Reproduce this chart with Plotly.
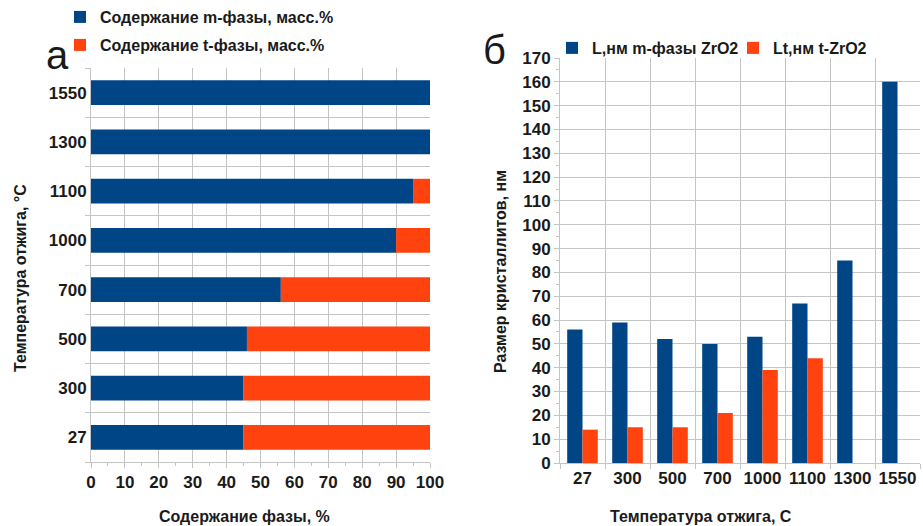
import plotly.graph_objects as go

# ---- data ----
temps_a = ["27", "300", "500", "700", "1000", "1100", "1300", "1550"]
m_phase = [45, 45, 46, 56, 90, 95, 100, 100]
t_phase = [55, 55, 54, 44, 10, 5, 0, 0]

temps_b = ["27", "300", "500", "700", "1000", "1100", "1300", "1550"]
L_m = [56, 59, 52, 50, 53, 67, 85, 160]
L_t = [14, 15, 15, 21, 39, 44, None, None]

BLUE = "#004586"
ORANGE = "#ff420e"
GRID = "#c4c4c4"
FONT = "Liberation Sans"
TXT = "#1a1a1a"

W, H = 923, 526
def px(x): return x / W
def py(y): return 1 - y / H

fig = go.Figure()

# left panel: stacked horizontally (t-phase starts where m-phase ends)
fig.add_trace(go.Bar(y=temps_a, x=m_phase, orientation="h", name="Содержание m-фазы, масс.%",
                     marker=dict(color=BLUE, line=dict(width=0)), xaxis="x", yaxis="y", legend="legend"))
fig.add_trace(go.Bar(y=temps_a, x=t_phase, base=m_phase, orientation="h", name="Содержание t-фазы, масс.%",
                     marker=dict(color=ORANGE, line=dict(width=0)), xaxis="x", yaxis="y", legend="legend3"))

# right panel: side by side
fig.add_trace(go.Bar(x=temps_b, y=L_m, name="L,нм m-фазы ZrO2",
                     marker=dict(color=BLUE, line=dict(width=0)), xaxis="x2", yaxis="y2", legend="legend2",
                     width=0.34, offset=-0.34))
fig.add_trace(go.Bar(x=temps_b, y=L_t, name="Lt,нм t-ZrO2",
                     marker=dict(color=ORANGE, line=dict(width=0)), xaxis="x2", yaxis="y2", legend="legend4",
                     width=0.34, offset=0.0))

tickfont = dict(family=FONT, size=17, color=TXT, weight="bold")
titlefont = dict(family=FONT, size=16, color=TXT, weight="bold")
legfont = dict(family=FONT, size=16, color=TXT, weight="bold")

def leg(xpix, ypix):
    return dict(x=px(xpix), y=py(ypix), xanchor="left", yanchor="middle", orientation="h",
                font=legfont, bgcolor="rgba(0,0,0,0)", itemwidth=30)

fig.update_layout(
    width=W, height=H, margin=dict(l=0, r=0, t=0, b=0, autoexpand=False),
    paper_bgcolor="white", plot_bgcolor="white",
    barmode="overlay",
    bargap=0.5,
    showlegend=True,
    xaxis=dict(domain=[px(91), px(430)], anchor="y", range=[0, 100], dtick=10,
               showgrid=True, gridcolor=GRID, zeroline=False, automargin=False,
               showline=True, linecolor=GRID, ticks="outside", ticklen=5, tickcolor=GRID,
               minor=dict(dtick=5, ticks="outside", ticklen=3, tickcolor=GRID, showgrid=False),
               tickfont=tickfont, tickangle=0),
    yaxis=dict(domain=[py(462), py(68)], anchor="x", type="category",
               categoryorder="array", categoryarray=temps_a, automargin=False,
               tickson="boundaries", showgrid=True, gridcolor=GRID,
               showline=True, linecolor=GRID, ticks="outside", ticklen=5, tickcolor=GRID,
               tickfont=tickfont),
    xaxis2=dict(domain=[px(560), px(920)], anchor="y2", type="category",
                categoryorder="array", categoryarray=temps_b, automargin=False,
                tickson="boundaries", showgrid=True, gridcolor=GRID,
                showline=True, linecolor=GRID, ticks="outside", ticklen=5, tickcolor=GRID,
                tickfont=tickfont, tickangle=0),
    yaxis2=dict(domain=[py(463), py(58)], anchor="x2", range=[0, 170], dtick=10,
                showgrid=True, gridcolor=GRID, zeroline=False, automargin=False,
                showline=True, linecolor=GRID, ticks="outside", ticklen=5, tickcolor=GRID,
                minor=dict(dtick=5, ticks="outside", ticklen=3, tickcolor=GRID, showgrid=False),
                tickfont=tickfont),
    legend=leg(60, 17),
    legend3=leg(60, 45),
    legend2=leg(552, 48),
    legend4=leg(733, 48),
    annotations=[
        dict(text="а", x=px(57), y=py(55), xref="paper", yref="paper", showarrow=False,
             xanchor="center", yanchor="middle", font=dict(family=FONT, size=40, color=TXT)),
        dict(text="б", x=px(495), y=py(50), xref="paper", yref="paper", showarrow=False,
             xanchor="center", yanchor="middle", font=dict(family=FONT, size=40, color=TXT)),
        dict(text="Содержание фазы, %", x=px(244), y=py(516), xref="paper", yref="paper",
             showarrow=False, xanchor="center", yanchor="middle", font=titlefont),
        dict(text="Температура отжига, °C", x=px(20), y=py(278), xref="paper", yref="paper",
             showarrow=False, xanchor="center", yanchor="middle", textangle=-90, font=titlefont),
        dict(text="Температура отжига, С", x=px(701), y=py(516), xref="paper", yref="paper",
             showarrow=False, xanchor="center", yanchor="middle", font=titlefont),
        dict(text="Размер кристаллитов, нм", x=px(500), y=py(272), xref="paper", yref="paper",
             showarrow=False, xanchor="center", yanchor="middle", textangle=-90, font=titlefont),
    ],
)

fig.write_html("out.html")
